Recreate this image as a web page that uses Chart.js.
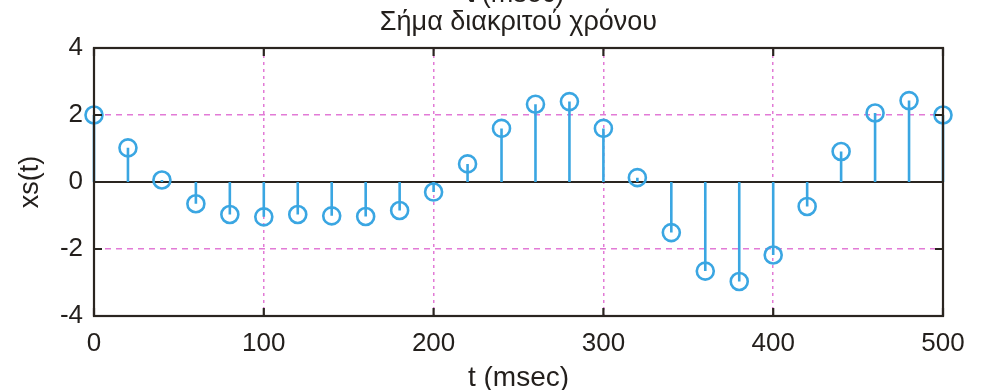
<!DOCTYPE html>
<html>
<head>
    <title>Σήμα διακριτού χρόνου</title>
    <script src="https://cdn.jsdelivr.net/npm/chart.js"></script>
    <style>
        body { margin: 0; background: #fff; }
        #wrap { width: 982px; height: 390px; }
    </style>
</head>
<body>
    <div id="wrap"><canvas id="myChart" width="982" height="390"></canvas></div>
    <script>
        // sample instants (msec) and signal values
        var times = [0, 20, 40, 60, 80, 100, 120, 140, 160, 180, 200, 220, 240,
                     260, 280, 300, 320, 340, 360, 380, 400, 420, 440, 460, 480, 500];
        var values = [2.0, 1.02, 0.06, -0.65, -0.97, -1.04, -0.97, -1.01, -1.03, -0.85, -0.3, 0.54, 1.6,
                      2.32, 2.4, 1.6, 0.13, -1.51, -2.66, -2.97, -2.18, -0.73, 0.91, 2.06, 2.43, 2.0];
        var xTicks = [0, 100, 200, 300, 400, 500];
        var yTicks = [-4, -2, 0, 2, 4];

        var stemColor = '#3aa6e2';
        var gridColor = '#e27ad6';
        var boxColor = '#2a2520';
        var textColor = '#231f1c';
        var font = 'Liberation Sans, Arial, sans-serif';

        var points = times.map((t, i) => ({x: t, y: values[i]}));
        // stems: 0 -> value, broken by NaN between samples
        var stems = [];
        times.forEach((t, i) => {
            stems.push({x: t, y: 0}, {x: t, y: values[i]}, {x: t, y: NaN});
        });

        // box, zero line, inward ticks and the titles
        var boxPlugin = {
            id: 'box',
            beforeDatasetsDraw(chart) {
                var c = chart.ctx, a = chart.chartArea;
                var ys = chart.scales.y;
                c.save();
                c.strokeStyle = boxColor;
                c.lineWidth = 2;
                var y0 = ys.getPixelForValue(0);
                c.beginPath();
                c.moveTo(a.left, y0);
                c.lineTo(a.right, y0);
                c.stroke();
                c.restore();
            },
            afterDatasetsDraw(chart) {
                var c = chart.ctx, a = chart.chartArea;
                var xs = chart.scales.x, ys = chart.scales.y;
                c.save();
                c.strokeStyle = boxColor;
                c.lineWidth = 2.2;
                c.beginPath();
                xTicks.forEach(v => {
                    var px = xs.getPixelForValue(v);
                    c.moveTo(px, a.top); c.lineTo(px, a.top + 8);
                    c.moveTo(px, a.bottom); c.lineTo(px, a.bottom - 8);
                });
                yTicks.forEach(v => {
                    var py = ys.getPixelForValue(v);
                    c.moveTo(a.left, py); c.lineTo(a.left + 8, py);
                    c.moveTo(a.right, py); c.lineTo(a.right - 8, py);
                });
                c.stroke();
                c.strokeRect(a.left, a.top, a.right - a.left, a.bottom - a.top);
                c.restore();
            },
            afterDraw(chart) {
                var c = chart.ctx, a = chart.chartArea;
                var cx = (a.left + a.right) / 2;
                c.save();
                c.fillStyle = textColor;
                c.textAlign = 'center';
                c.textBaseline = 'alphabetic';
                c.font = '27px ' + font;
                c.fillText('t (msec)', cx - 3, 2);
                c.fillText('Σήμα διακριτού χρόνου', cx, 30);
                c.restore();
            }
        };

        var ctx = document.getElementById('myChart').getContext('2d');
        var myChart = new Chart(ctx, {
            type: 'scatter',
            data: {
                datasets: [{
                    type: 'line',
                    data: stems,
                    borderColor: stemColor,
                    borderWidth: 2.6,
                    pointRadius: 0,
                    spanGaps: false,
                    clip: false
                }, {
                    data: points,
                    showLine: false,
                    pointRadius: 8.5,
                    pointBorderWidth: 2.6,
                    pointBorderColor: stemColor,
                    pointBackgroundColor: 'rgba(0,0,0,0)',
                    pointHoverRadius: 8.5,
                    clip: false
                }]
            },
            options: {
                responsive: false,
                animation: false,
                layout: { padding: { left: 0, right: 39, top: 48, bottom: 0 } },
                plugins: {
                    legend: { display: false },
                    tooltip: { enabled: false }
                },
                scales: {
                    x: {
                        type: 'linear',
                        min: 0,
                        max: 500,
                        afterBuildTicks: s => { s.ticks = xTicks.map(v => ({value: v})); },
                        afterFit: s => { s.height = 74; },
                        ticks: { color: textColor, padding: 12, font: { family: font, size: 26 } },
                        grid: {
                            drawTicks: false,
                            lineWidth: 1.5,
                            color: c => (c.tick && (c.tick.value === 0 || c.tick.value === 500)) ? 'rgba(0,0,0,0)' : gridColor
                        },
                        border: { display: false, dash: [3, 4] },
                        title: {
                            display: true,
                            text: 't (msec)',
                            color: textColor,
                            padding: { top: 0, bottom: 1 },
                            font: { family: font, size: 28, lineHeight: 0.8 }
                        }
                    },
                    y: {
                        min: -4,
                        max: 4,
                        afterBuildTicks: s => { s.ticks = yTicks.map(v => ({value: v})); },
                        afterFit: s => { s.width = 94; },
                        ticks: { color: textColor, padding: 11, font: { family: font, size: 26 } },
                        grid: {
                            drawTicks: false,
                            lineWidth: 1.5,
                            color: c => (c.tick && (Math.abs(c.tick.value) === 4 || c.tick.value === 0)) ? 'rgba(0,0,0,0)' : gridColor
                        },
                        border: { display: false, dash: [6, 5] },
                        title: {
                            display: true,
                            text: 'xs(t)',
                            color: textColor,
                            padding: { top: 14, bottom: 0 },
                            font: { family: font, size: 27 }
                        }
                    }
                }
            },
            plugins: [boxPlugin]
        });
    </script>
</body>
</html>
